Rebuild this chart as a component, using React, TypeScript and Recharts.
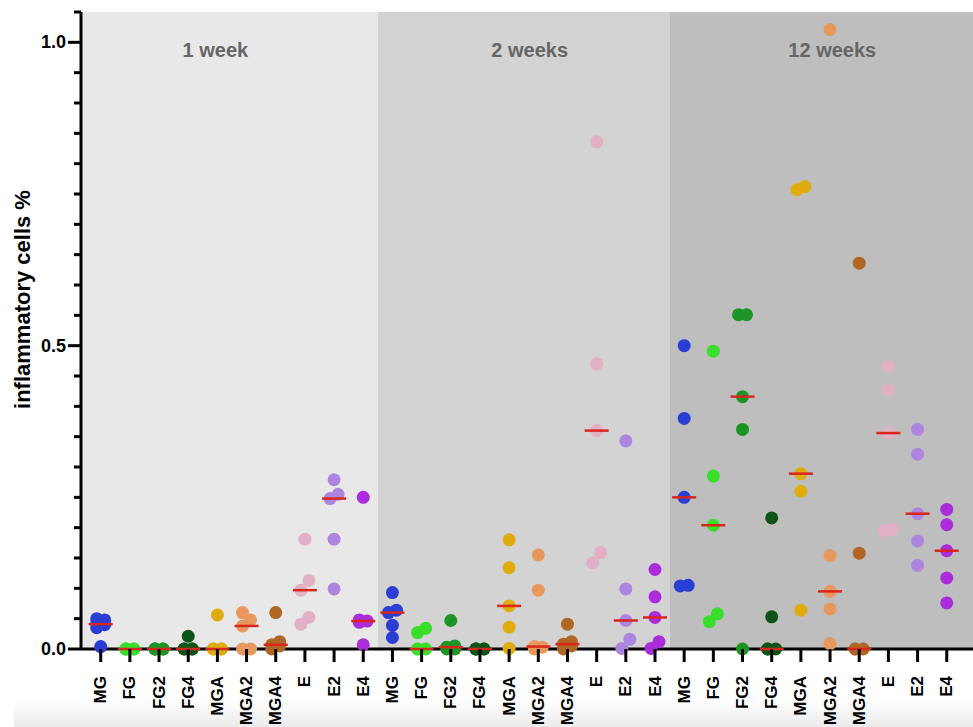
import React from 'react';
import {
  ScatterChart,
  Scatter,
  XAxis,
  YAxis,
  ReferenceArea,
} from 'recharts';

// group names, repeated for each time point
const groups = ['MG', 'FG', 'FG2', 'FG4', 'MGA', 'MGA2', 'MGA4', 'E', 'E2', 'E4'];
const periods = ['1 week', '2 weeks', '12 weeks'];

// inflammatory cells % per sample, one row per group
const week1 = [
  [0.004, 0.035, 0.04, 0.042, 0.048, 0.05],
  [0, 0, 0, 0, 0],
  [0, 0, 0, 0, 0],
  [0, 0, 0, 0, 0.021],
  [0, 0, 0, 0, 0.056],
  [0, 0, 0.038, 0.048, 0.06],
  [0, 0.005, 0.007, 0.012, 0.06],
  [0.041, 0.052, 0.097, 0.113, 0.181],
  [0.099, 0.181, 0.248, 0.255, 0.279],
  [0.007, 0.044, 0.046, 0.048, 0.25],
];

const week2 = [
  [0.019, 0.039, 0.06, 0.064, 0.093],
  [0, 0, 0, 0.027, 0.034],
  [0, 0, 0.003, 0.005, 0.047],
  [0, 0, 0, 0, 0],
  [0.001, 0.036, 0.071, 0.134, 0.18],
  [0, 0.003, 0.004, 0.097, 0.155],
  [0, 0.005, 0.008, 0.012, 0.041],
  [0.142, 0.159, 0.36, 0.47, 0.836],
  [0.001, 0.016, 0.047, 0.099, 0.343],
  [0.001, 0.012, 0.052, 0.086, 0.131],
];

const week12 = [
  [0.104, 0.105, 0.25, 0.38, 0.5],
  [0.045, 0.058, 0.204, 0.285, 0.491],
  [0, 0.362, 0.416, 0.551, 0.551],
  [0, 0, 0, 0.053, 0.216],
  [0.064, 0.26, 0.289, 0.757, 0.762],
  [0.009, 0.066, 0.095, 0.154, 1.021],
  [0, 0, 0, 0.158, 0.636],
  [0.195, 0.197, 0.356, 0.427, 0.466],
  [0.138, 0.178, 0.223, 0.321, 0.362],
  [0.076, 0.117, 0.162, 0.205, 0.23],
];

const yTicks = [0, 0.05, 0.1, 0.15, 0.2, 0.25, 0.3, 0.35, 0.4, 0.45, 0.5, 0.55, 0.6, 0.65, 0.7, 0.75, 0.8, 0.85, 0.9, 0.95, 1.0, 1.05];

const groupColors = ['#2b3ed4', '#38de2a', '#1d9426', '#0d5416', '#dfac0e', '#e8985c', '#b06624', '#e2b0c4', '#ac86de', '#aa2cda'];
const periodFills = ['#e8e8e8', '#d3d3d3', '#bebebe'];
const titleShift = [-14, 6, 11];

const W = 973;
const H = 727;
const PLOT_LEFT = 81;
const PLOT_TOP = 12;
const X_AXIS_H = 78;
const X_MIN = -0.675;
const X_MAX = 29.9;
const Y_MAX = 1.05;
const DOT_R = 6.5;
const FONT = '"Liberation Sans", Arial, Helvetica, sans-serif';

const pxPerX = (W - PLOT_LEFT) / (X_MAX - X_MIN);
const pxPerY = (H - X_AXIS_H - PLOT_TOP) / Y_MAX;

const allPeriods = [week1, week2, week12];
const tickLabels = periods.flatMap(() => groups);

function median(vals: number[]) {
  const s = [...vals].sort((a, b) => a - b);
  const m = Math.floor(s.length / 2);
  return s.length % 2 ? s[m] : (s[m - 1] + s[m]) / 2;
}

// simple scatter spread: neighbours closer than ~a dot go left/right in turn
const points: { x: number; y: number; group: number }[] = [];
const medians: { x: number; y: number }[] = [];
allPeriods.forEach((rows, p) => {
  rows.forEach((vals, g) => {
    const cx = p * groups.length + g;
    const s = [...vals].sort((a, b) => a - b);
    let run: number[] = [];
    const flush = () => {
      run.forEach((v, k) => {
        const off = run.length > 1 ? (k % 2 === 0 ? -4 : 4) : 0;
        points.push({ x: cx + off / pxPerX, y: v, group: g });
      });
      run = [];
    };
    s.forEach((v) => {
      if (run.length && (v - run[run.length - 1]) * pxPerY >= 11) flush();
      run.push(v);
    });
    flush();
    medians.push({ x: cx, y: median(vals) });
  });
});

const Dot = (props: any) => (
  <circle cx={props.cx} cy={props.cy} r={DOT_R} fill={groupColors[props.payload.group]} />
);

const MedianMark = (props: any) => (
  <line x1={props.cx - 12} x2={props.cx + 12} y1={props.cy} y2={props.cy} stroke="#d8261c" strokeWidth={2.5} />
);

const XTick = (props: any) => {
  const { x, y, payload } = props;
  return (
    <g>
      <line x1={x} x2={x} y1={y} y2={y + 13} stroke="#000" strokeWidth={3} />
      <text
        x={x}
        y={y + 27}
        transform={`rotate(-90 ${x} ${y + 27})`}
        textAnchor="end"
        dominantBaseline="central"
        fontFamily={FONT}
        fontWeight="bold"
        fontSize={17}
        fill="#000"
      >
        {tickLabels[payload.value]}
      </text>
    </g>
  );
};

const YTick = (props: any) => {
  const { x, y, payload } = props;
  const major = Math.abs(payload.value * 2 - Math.round(payload.value * 2)) < 1e-6;
  return (
    <g>
      <line x1={x} x2={x - (major ? 13 : 7)} y1={y} y2={y} stroke="#000" strokeWidth={3} />
      {major && (
        <text x={x - 15} y={y} textAnchor="end" dominantBaseline="central" fontFamily={FONT} fontWeight="bold" fontSize={18} fill="#000">
          {payload.value.toFixed(1)}
        </text>
      )}
    </g>
  );
};

const YTitle = (props: any) => {
  const vb = props.viewBox;
  const cx = vb.x + 22;
  const cy = vb.y + vb.height / 2 - 31;
  return (
    <text x={cx} y={cy} transform={`rotate(-90 ${cx} ${cy})`} textAnchor="middle" dominantBaseline="central" fontFamily={FONT} fontWeight="bold" fontSize={22} fill="#000">
      inflammatory cells %
    </text>
  );
};

const sectionTitle = (text: string, shift: number) => (props: any) => {
  const vb = props.viewBox;
  return (
    <text x={vb.x + vb.width / 2 + shift} y={vb.y + 45} textAnchor="middle" fontFamily={FONT} fontWeight="bold" fontSize={20} fill="#666">
      {text}
    </text>
  );
};

const bounds = [X_MIN, groups.length - 0.5, 2 * groups.length - 0.5, X_MAX];

export default function App() {
  return (
    <div style={{ position: 'absolute', left: 0, top: 0, width: W, height: H, background: '#fff' }}>
      <div
        style={{
          position: 'absolute',
          left: 14,
          top: 700,
          width: W - 14,
          height: H - 700,
          background: 'linear-gradient(to bottom, #ffffff, #ebebeb)',
        }}
      />
      <div style={{ position: 'absolute', left: 0, top: 0 }}>
        <ScatterChart width={W} height={H} margin={{ top: PLOT_TOP, right: 0, bottom: 0, left: 0 }}>
          {periods.map((p, i) => (
            <ReferenceArea
              key={p}
              x1={bounds[i]}
              x2={bounds[i + 1]}
              y1={0}
              y2={Y_MAX}
              fill={periodFills[i]}
              fillOpacity={1}
              stroke="none"
              label={sectionTitle(p, titleShift[i])}
            />
          ))}
          <XAxis
            type="number"
            dataKey="x"
            domain={[X_MIN, X_MAX]}
            ticks={tickLabels.map((_, i) => i)}
            interval={0}
            height={X_AXIS_H}
            tickLine={false}
            tickSize={0}
            tickMargin={0}
            tick={<XTick />}
            axisLine={{ stroke: '#000', strokeWidth: 3 }}
          />
          <YAxis
            type="number"
            dataKey="y"
            domain={[0, Y_MAX]}
            ticks={yTicks}
            interval={0}
            width={PLOT_LEFT}
            tickLine={false}
            tickSize={0}
            tickMargin={0}
            tick={<YTick />}
            axisLine={{ stroke: '#000', strokeWidth: 3 }}
            label={<YTitle />}
          />
          <Scatter data={points} shape={<Dot />} isAnimationActive={false} />
          <Scatter data={medians} shape={<MedianMark />} isAnimationActive={false} />
        </ScatterChart>
      </div>
    </div>
  );
}
